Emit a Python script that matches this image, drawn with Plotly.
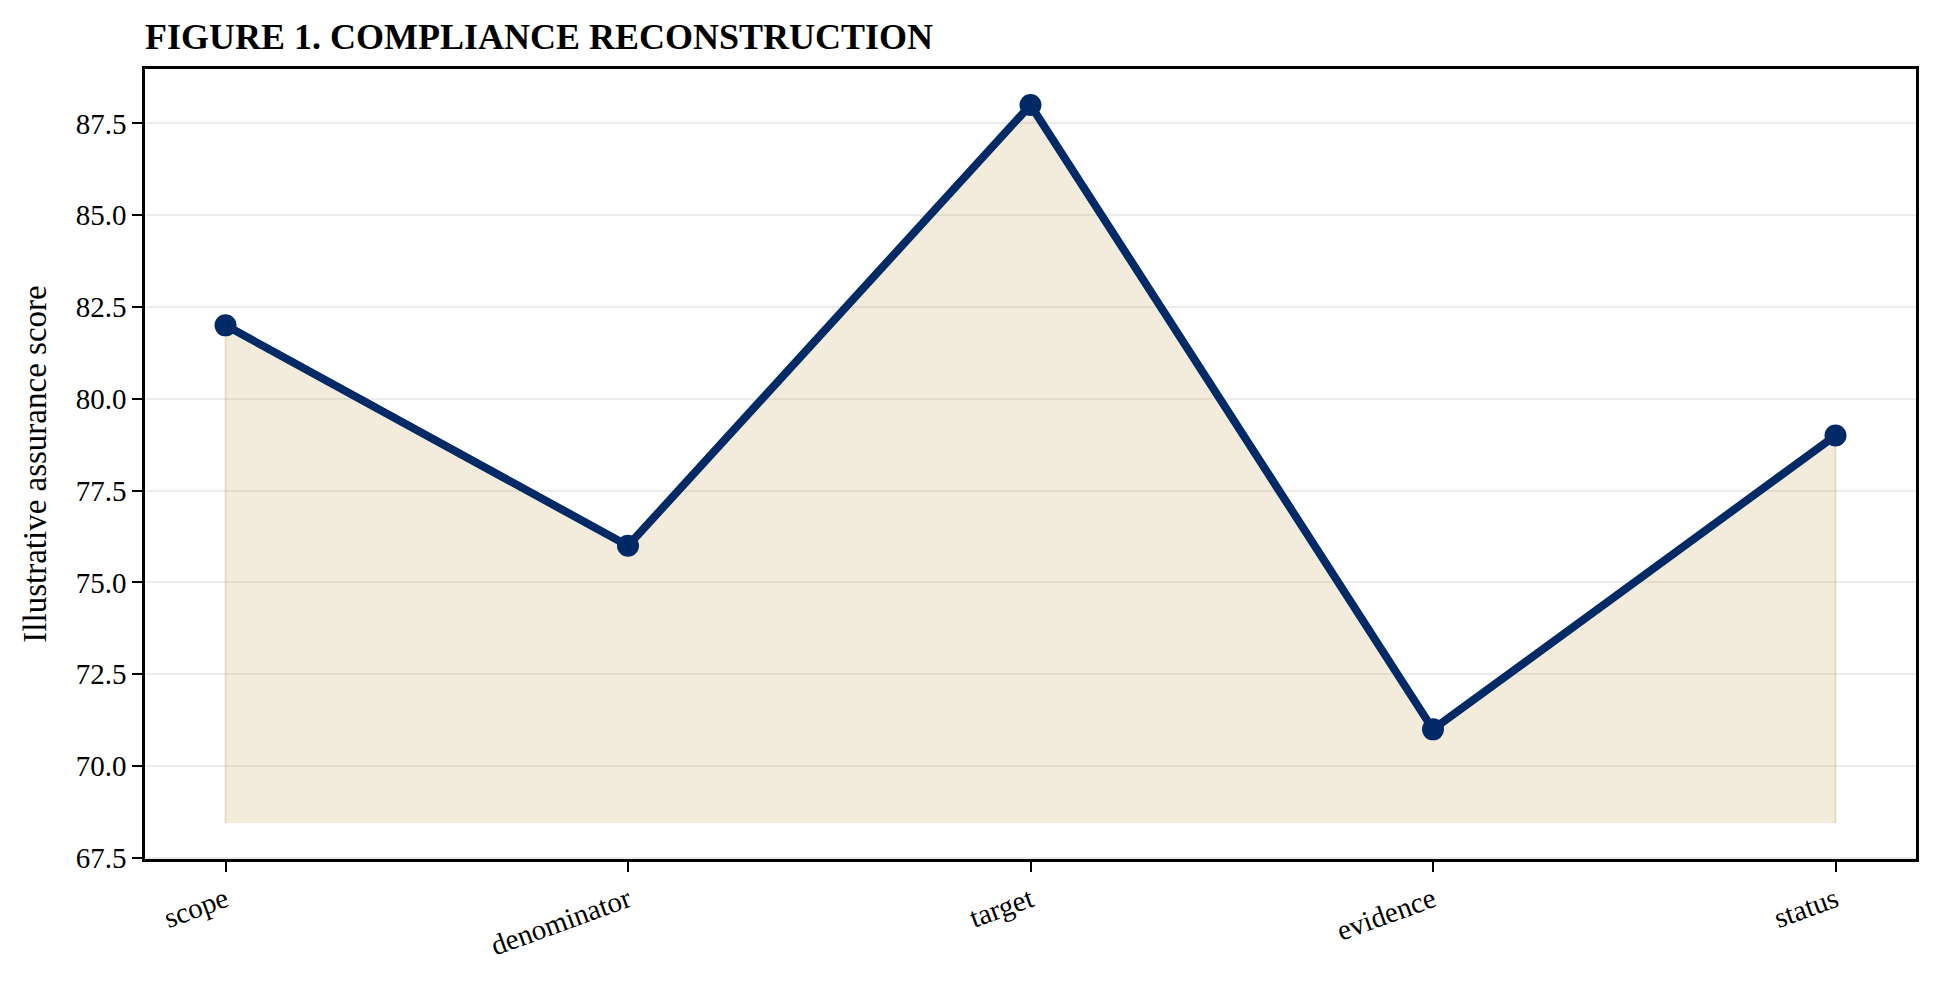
import plotly.graph_objects as go

categories = ["scope", "denominator", "target", "evidence", "status"]
scores = [82, 76, 88, 71, 79]
fill_base = 68.45
y_ticks = [67.5, 70.0, 72.5, 75.0, 77.5, 80.0, 82.5, 85.0, 87.5]

serif = "Liberation Serif, Times New Roman, serif"
navy = "#002a66"

xs = list(range(len(categories)))

fig = go.Figure()

# shaded area under the line, closed down to the base value
fig.add_trace(go.Scatter(
    x=[xs[0]] + xs + [xs[-1]],
    y=[fill_base] + scores + [fill_base],
    fill="toself",
    fillcolor="rgba(195,160,80,0.2)",
    line=dict(color="rgba(200,165,85,0.3)", width=2),
    mode="lines",
    hoverinfo="skip",
    showlegend=False,
))

fig.add_trace(go.Scatter(
    x=xs, y=scores,
    mode="lines+markers",
    line=dict(color=navy, width=8),
    marker=dict(color=navy, size=22),
    showlegend=False,
))

# page body has an 8px margin, so the figure is sized to fit inside it
fig.update_layout(
    width=1924, height=967,
    margin=dict(l=137, r=16, t=61, b=116),
    paper_bgcolor="white",
    plot_bgcolor="white",
    font=dict(family=serif, size=29, color="black"),
    title=dict(
        text="<b>FIGURE 1. COMPLIANCE RECONSTRUCTION</b>",
        font=dict(family=serif, size=36, color="black"),
        x=0, xref="paper", xanchor="left",
        y=1 - 28 / 967, yref="container", yanchor="middle",
    ),
)

fig.update_xaxes(
    range=[-0.2, len(categories) - 1 + 0.2],
    tickvals=xs, ticktext=categories,
    tickangle=-20,
    ticks="outside", ticklen=10, tickwidth=2, tickcolor="black",
    showline=True, linecolor="black", linewidth=2.5, mirror=True,
    showgrid=False, zeroline=False,
    tickfont=dict(family=serif, size=29),
)

fig.update_yaxes(
    range=[67.47, 88.98],
    tickvals=y_ticks, tickformat=".1f",
    ticks="outside", ticklen=10, tickwidth=2, tickcolor="black",
    showline=True, linecolor="black", linewidth=2.5, mirror=True,
    showgrid=True, gridcolor="#ececec", gridwidth=2,
    zeroline=False,
    tickfont=dict(family=serif, size=29),
    title=dict(text="Illustrative assurance score", font=dict(family=serif, size=33), standoff=20),
)

fig.write_html("out.html")
